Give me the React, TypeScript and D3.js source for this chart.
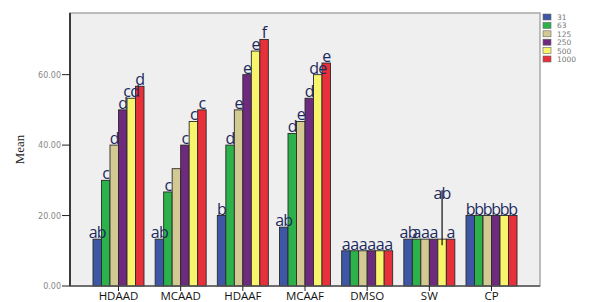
import React from 'react';
import * as d3 from 'd3';

const categories = ['HDAAD', 'MCAAD', 'HDAAF', 'MCAAF', 'DMSO', 'SW', 'CP'];
const doses = ['31', '63', '125', '250', '500', '1000'];
const colors = ['#3d57a6', '#2bb24a', '#d3ca93', '#6e2a7c', '#f8f46c', '#e8303a'];

const means: number[][] = [
  [13.3, 30.0, 40.0, 50.0, 53.3, 56.7],
  [13.3, 26.7, 33.3, 40.0, 46.7, 50.0],
  [20.0, 40.0, 50.0, 60.0, 66.7, 70.0],
  [16.7, 43.3, 46.7, 53.3, 60.0, 63.3],
  [10.0, 10.0, 10.0, 10.0, 10.0, 10.0],
  [13.3, 13.3, 13.3, 13.3, 13.3, 13.3],
  [20.0, 20.0, 20.0, 20.0, 20.0, 20.0],
];

const letters: string[][] = [
  ['ab', 'c', 'd', 'd', 'cd', 'd'],
  ['ab', 'c', '', 'c', 'c', 'c'],
  ['b', 'd', 'e', 'e', 'e', 'f'],
  ['ab', 'd', 'e', 'd', 'de', 'e'],
  ['a', 'a', 'a', 'a', 'a', 'a'],
  ['ab', 'a', 'a', 'a', '', 'a'],
  ['b', 'b', 'b', 'b', 'b', 'b'],
];

// the raised "ab" on the SW 500 bar, with its line
const swMarker = { group: 'SW', dose: '500', low: 11.6, high: 27.2, label: 'ab' };

const yTicks = [0, 20, 40, 60];

const W = 589;
const H = 302;
const left = 70, right = 540, top = 13, bottom = 286;

export default function App() {
  const x = d3.scalePoint<string>().domain(categories).range([left, right]).padding(0.78);
  const y = d3.scaleLinear().domain([0, 77.5]).range([bottom, top]);
  const groupW = 51;
  const xi = d3.scaleBand<string>().domain(doses).range([-groupW / 2, groupW / 2]).padding(0);
  const bw = xi.bandwidth();
  const letterFont = '"Open Sans", sans-serif';

  const swX = (x(swMarker.group) as number) + (xi(swMarker.dose) as number) + bw / 2;

  return (
    <svg width={W} height={H} style={{ position: 'absolute', left: 0, top: 0, background: '#fff' }}>
      <rect x={left} y={top} width={right - left} height={bottom - top} fill="#efefef" stroke="#a8a8a8" strokeWidth={1.5} />

      {categories.map((c, gi) => (
        <g key={c} transform={`translate(${x(c)},0)`}>
          {means[gi].map((v, di) => (
            <rect
              key={di}
              x={(xi(doses[di]) as number)}
              y={y(v)}
              width={bw}
              height={bottom - y(v)}
              fill={colors[di]}
              stroke="#2a2a2a"
              strokeWidth={0.9}
            />
          ))}
          {letters[gi].map((t, di) =>
            t ? (
              <text
                key={'l' + di}
                x={(xi(doses[di]) as number) + bw / 2}
                y={y(means[gi][di]) - 1}
                textAnchor="middle"
                fontFamily={letterFont}
                fontSize={16}
                fill="#1b2a5e"
                letterSpacing={-0.8}
              >
                {t}
              </text>
            ) : null
          )}
        </g>
      ))}

      <line x1={swX} x2={swX} y1={y(swMarker.high)} y2={y(swMarker.low)} stroke="#111" strokeWidth={1.2} />
      <text x={swX} y={y(swMarker.high) + 9} textAnchor="middle" fontFamily={letterFont} fontSize={16} fill="#1b2a5e" letterSpacing={-0.8}>
        {swMarker.label}
      </text>

      {/* axes */}
      <line x1={left} x2={left} y1={top} y2={bottom} stroke="#111" strokeWidth={1.5} />
      <line x1={left} x2={right} y1={bottom} y2={bottom} stroke="#555" strokeWidth={1.5} />
      {yTicks.map((t) => (
        <g key={t}>
          <line x1={left - 8} x2={left} y1={y(t)} y2={y(t)} stroke="#222" strokeWidth={1} />
          <text x={left - 9} y={y(t) + 3} textAnchor="end" fontFamily="'DejaVu Sans', sans-serif" fontSize={8} fill="#888">
            {d3.format('.2f')(t)}
          </text>
        </g>
      ))}
      {categories.map((c) => (
        <g key={'t' + c}>
          <line x1={x(c)} x2={x(c)} y1={bottom} y2={bottom + 5} stroke="#222" strokeWidth={1} />
          <text x={x(c)} y={bottom + 14} textAnchor="middle" fontFamily={letterFont} fontSize={11.5} fill="#111">
            {c}
          </text>
        </g>
      ))}
      <text
        transform={`translate(24,${(top + bottom) / 2}) rotate(-90)`}
        textAnchor="middle"
        fontFamily="'Liberation Serif', serif"
        fontSize={13}
        fill="#222"
      >
        Mean
      </text>

      {/* legend */}
      {doses.map((d, i) => (
        <g key={'lg' + d} transform={`translate(543,${14 + i * 8.4})`}>
          <rect width={8} height={6} fill={colors[i]} stroke="#666" strokeWidth={0.6} />
          <text x={14} y={6} fontFamily="'DejaVu Sans', sans-serif" fontSize={7.5} fill="#777">
            {d}
          </text>
        </g>
      ))}
    </svg>
  );
}
